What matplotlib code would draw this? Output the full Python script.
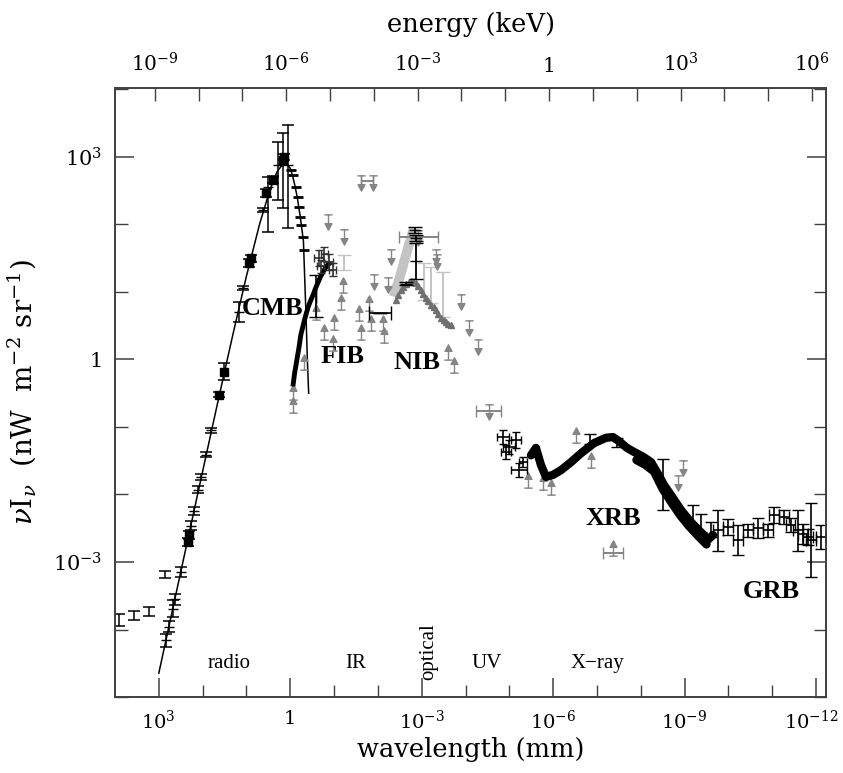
import numpy as np
import matplotlib
matplotlib.use('Agg')
import matplotlib.pyplot as plt
import matplotlib.transforms as mtrans
from matplotlib.path import Path
from matplotlib.ticker import FixedLocator, FuncFormatter, NullFormatter

# ---------------- data: log10 wavelength [mm], log10 nuI_nu [nW m^-2 sr^-1] ----------------
cmb_line_loglam = [3.0, 2.477, 2.0, 1.699, 1.477, 1.301, 1.0, 0.699, 0.477, 0.398, 0.301,
                   0.176, 0.130, 0.079, 0.0, -0.046, -0.097, -0.155, -0.222, -0.260, -0.301,
                   -0.33, -0.36, -0.39, -0.42]
cmb_line_logI = [-4.647, -3.08, -1.658, -0.766, -0.116, 0.392, 1.234, 2.007, 2.485, 2.623, 2.78,
                 2.89, 2.91, 2.90, 2.83, 2.74, 2.60, 2.42, 2.14, 1.96, 1.75, 1.20, 0.65, 0.0, -0.5]

cmb_sq_loglam = [2.34, 2.315, 1.63, 1.52, 0.945, 0.90, 0.557, 0.40, 0.17, 0.146]
cmb_sq_logI = [-2.70, -2.60, -0.52, -0.18, 1.43, 1.50, 2.47, 2.66, 2.96, 3.00]
cmb_sq_elo = [0.06, 0.06, 0.04, 0.12, 0.06, 0.05, 0.06, 0.05, 0.72, 0.05]
cmb_sq_ehi = [0.06, 0.06, 0.04, 0.12, 0.06, 0.05, 0.06, 0.05, 0.40, 0.05]

cmb_bar_loglam = [2.84, 2.77, 2.68, 2.635, 2.50, 2.27, 2.20, 2.11, 2.03, 1.92, 1.80, 1.17,
                  1.08, 0.63, 0.51, 0.28, 0.055]
cmb_bar_logI = [-4.16, -3.96, -3.69, -3.55, -3.15, -2.46, -2.25, -1.93, -1.74, -1.41, -1.05,
                0.70, 1.06, 2.21, 2.55, 2.88, 2.88]
cmb_bar_elo = [0.10, 0.08, 0.12, 0.08, 0.07, 0.06, 0.06, 0.05, 0.04, 0.04, 0.04, 0.15,
               0.03, 0.03, 0.66, 0.52, 0.93]
cmb_bar_ehi = [0.10, 0.08, 0.12, 0.08, 0.07, 0.06, 0.06, 0.05, 0.04, 0.04, 0.04, 0.15,
               0.03, 0.03, 0.15, 0.34, 0.59]

radio_loglam = [3.913, 3.57, 3.23, 2.86]
radio_logI = [-3.86, -3.79, -3.73, -3.19]
radio_err = [0.09, 0.07, 0.07, 0.05]

firas_cmb_loglam = [-0.014, -0.06, -0.128, -0.174, -0.196, -0.219, -0.242, -0.288, -0.311]
firas_cmb_logI = [2.81, 2.73, 2.56, 2.41, 2.26, 2.11, 1.99, 1.81, 1.62]

firas_cib_loglam = [-0.06, -0.10, -0.15, -0.20, -0.24, -0.30, -0.356, -0.41, -0.47,
                    -0.53, -0.58, -0.64, -0.70, -0.76, -0.81, -0.87, -0.93]
firas_cib_logI = [-0.40, -0.20, -0.01, 0.18, 0.36, 0.52, 0.66, 0.78, 0.88,
                  0.97, 1.06, 1.15, 1.24, 1.31, 1.36, 1.41, 1.44]

dirbe_loglam = [-0.65, -0.78, -0.88, -0.97, -0.70]
dirbe_logI = [1.50, 1.56, 1.44, 1.33, 1.38]
dirbe_xerr = [0.10, 0.08, 0.10, 0.08, 0.08]
dirbe_yerr = [0.12, 0.10, 0.12, 0.10, 0.10]

fib_black_bar_loglam = [-0.584, -2.046]
fib_black_bar_logI = [0.94, 0.689]
fib_black_bar_xerr = [0.0, 0.25]
fib_black_bar_yerr = [0.31, 0.0]

lightbar_loglam = [-1.22, -3.05, -3.21, -3.484]
lightbar_logI = [1.437, 1.156, 1.104, 0.963]
lightbar_err = [0.11, 0.274, 0.267, 0.333]

lower_loglam = [-0.059, -0.059, -0.311, -0.767, -0.995, -1.155, -1.20, -1.612, -1.84, -1.566,
                -1.795, -2.114, -2.137, -3.598, -3.735, -5.425, -5.767, -5.95, -6.52, -6.863,
                -7.365, -0.58, -0.98]
lower_logI = [-0.48, -0.67, -0.04, 0.41, 0.56, 0.85, 1.10, 0.41, 0.54, 0.69,
              0.84, 0.54, 0.36, 0.11, -0.08, -1.79, -1.82, -1.89, -1.12, -1.49,
              -2.80, 0.70, 0.25]

upper_loglam = [-0.858, -1.224, -1.612, -1.886, -2.297, -1.909, -2.228, -3.324, -3.36, -3.895,
                -4.078, -4.283, -2.925, -4.534, -8.963, -8.85]
upper_logI = [2.03, 1.82, 2.62, 2.62, 1.52, 1.15, 1.10, 1.52, 1.45, 0.85,
              0.47, 0.19, 1.80, -0.78, -1.61, -1.83]

uplim_bar_loglam = [-1.75, -2.925, -4.534, -7.365]
uplim_bar_logI = [2.64, 1.82, -0.77, -2.86]
uplim_bar_xerr = [0.14, 0.445, 0.285, 0.22]

nib_band_loglam = [-2.365, -2.42, -2.48, -2.54, -2.594, -2.65, -2.708, -2.77, -2.822]
nib_band_logI = [0.93, 1.05, 1.18, 1.31, 1.44, 1.57, 1.70, 1.83, 1.95]

nib_counts_loglam = [-2.41, -2.47, -2.525, -2.58, -2.64, -2.70, -2.753, -2.81, -2.868, -2.92,
                     -2.98, -3.04, -3.096, -3.15, -3.21, -3.27, -3.32, -3.38, -3.44, -3.50,
                     -3.55, -3.61, -3.667]
nib_counts_logI = [0.88, 0.96, 1.03, 1.08, 1.12, 1.15, 1.16, 1.155, 1.13, 1.09,
                   1.03, 0.97, 0.91, 0.86, 0.81, 0.77, 0.73, 0.68, 0.62, 0.58,
                   0.56, 0.53, 0.51]

nib_black_loglam = [-2.87, -2.84, -2.86, -2.64]
nib_black_logI = [1.46, 1.92, 1.80, 1.12]
nib_black_yerr = [0.27, 0.04, 0.04, 0.02]

uv_box_loglam = [-4.854, -4.991, -5.151, -4.922, -5.219, -5.31]
uv_box_logI = [-1.15, -1.30, -1.19, -1.37, -1.64, -1.52]
uv_box_xerr = [0.13, 0.13, 0.12, 0.12, 0.18, 0.10]
uv_box_yerr = [0.10, 0.10, 0.12, 0.10, 0.10, 0.08]

xrb_loglam = [-5.493, -5.607, -5.72, -5.836, -5.995, -6.178, -6.41, -6.635, -6.932, -7.205,
              -7.365, -7.50, -7.685, -7.845, -8.05, -8.233, -8.37, -8.53, -8.69, -8.918,
              -9.146, -9.374, -9.534, -9.648]
xrb_logI = [-1.42, -1.31, -1.56, -1.74, -1.71, -1.64, -1.52, -1.39, -1.24, -1.16,
            -1.15, -1.21, -1.31, -1.37, -1.44, -1.52, -1.67, -1.86, -2.01, -2.23,
            -2.41, -2.56, -2.67, -2.60]

xrb_low_loglam = [-7.9, -8.1, -8.3, -8.5, -8.7, -8.9, -9.1, -9.3, -9.5]
xrb_low_logI = [-1.49, -1.56, -1.66, -1.92, -2.12, -2.31, -2.47, -2.61, -2.74]

xrb_bar_loglam = [-6.83, -7.46, -8.50, -9.20, -9.37, -9.60]
xrb_bar_logI = [-1.18, -1.23, -1.85, -2.30, -2.42, -2.52]
xrb_bar_yerr = [0.07, 0.07, 0.38, 0.15, 0.13, 0.11]

grb_loglam = [-9.763, -9.99, -10.22, -10.45, -10.676, -10.90, -11.04, -11.27, -11.42, -11.59,
              -11.70, -11.82, -11.886, -12.11]
grb_logI = [-2.53, -2.48, -2.67, -2.53, -2.50, -2.53, -2.30, -2.33, -2.45, -2.53,
            -2.58, -2.63, -2.67, -2.63]
grb_xerr = [0.11, 0.11, 0.11, 0.11, 0.11, 0.11, 0.11, 0.11, 0.11, 0.11, 0.11, 0.11, 0.11, 0.11]
grb_yerr = [0.30, 0.12, 0.22, 0.10, 0.15, 0.10, 0.12, 0.10, 0.10, 0.30, 0.15, 0.12, 0.55, 0.18]

labels_bold = ['CMB', 'FIB', 'NIB', 'XRB', 'GRB']
labels_bold_loglam = [0.40, -1.20, -2.89, -7.365, -10.97]
labels_bold_logI = [0.76, 0.04, -0.04, -2.35, -3.43]

bands = ['radio', 'IR', 'UV', 'X\u2212ray']
bands_loglam = [1.40, -1.50, -4.49, -7.02]
bands_logI = -4.50

x_major_exp = [3, 0, -3, -6, -9, -12]
y_major_exp = [3, 0, -3]
e_major_exp = [-9, -6, -3, 0, 3, 6]

# ---------------- helpers ----------------
def p(a):
    return np.power(10.0, np.asarray(a, dtype=float))

def err(center, e):
    c = np.asarray(center, float)
    e = np.asarray(e, float)
    return p(c) - p(c - e), p(c + e) - p(c)

up_path = Path([(-0.55, -1.0), (0.55, -1.0), (0.0, -1.0), (0.0, 0.3),
                (-0.45, 0.15), (0.0, 1.0), (0.45, 0.15), (-0.45, 0.15)],
               [Path.MOVETO, Path.LINETO, Path.MOVETO, Path.LINETO,
                Path.MOVETO, Path.LINETO, Path.LINETO, Path.CLOSEPOLY])
down_path = Path([(x, -y) for x, y in up_path.vertices], up_path.codes)

plt.rcParams['font.family'] = ['DejaVu Serif']
plt.rcParams['mathtext.fontset'] = 'dejavuserif'

fig = plt.figure(figsize=(8.43, 7.73), dpi=100)
ax = fig.add_axes([0.1364, 0.0983, 0.8436, 0.7878])
ax.set_xscale('log')
ax.set_yscale('log')
XL = (1e4, 10 ** -12.23)
ax.set_xlim(*XL)
ax.set_ylim(1e-5, 10 ** 4.02)

BLK = 'black'
GR = '#858585'
LGR = '#c4c4c4'

# CMB
ax.plot(p(cmb_line_loglam), p(cmb_line_logI), color=BLK, lw=1.1, zorder=3)
lo, hi = err(cmb_sq_logI, cmb_sq_elo)[0], err(cmb_sq_logI, cmb_sq_ehi)[1]
ax.errorbar(p(cmb_sq_loglam), p(cmb_sq_logI), yerr=[lo, hi], fmt='s', ms=6, color=BLK,
            elinewidth=1.1, capsize=4, capthick=1.1, zorder=4)
lo, hi = err(cmb_bar_logI, cmb_bar_elo)[0], err(cmb_bar_logI, cmb_bar_ehi)[1]
ax.errorbar(p(cmb_bar_loglam), p(cmb_bar_logI), yerr=[lo, hi], fmt='_', ms=7, color=BLK,
            elinewidth=1.1, capsize=4, capthick=1.1, zorder=4)
ax.errorbar(p(radio_loglam), p(radio_logI), yerr=err(radio_logI, radio_err), fmt='none',
            ecolor=BLK, elinewidth=1.1, capsize=4, capthick=1.1)
ax.plot(p(firas_cmb_loglam), p(firas_cmb_logI), ls='none', marker='_', ms=7, mew=2, color=BLK, zorder=4)

# FIB
ax.plot(p(firas_cib_loglam), p(firas_cib_logI), color=BLK, lw=3.5, solid_capstyle='butt', zorder=4)
ax.errorbar(p(dirbe_loglam), p(dirbe_logI), xerr=err(dirbe_loglam, dirbe_xerr),
            yerr=err(dirbe_logI, dirbe_yerr), fmt='none', ecolor='#303030', elinewidth=1.2,
            capsize=3, zorder=4)
ax.errorbar(p(fib_black_bar_loglam), p(fib_black_bar_logI),
            xerr=err(fib_black_bar_loglam, fib_black_bar_xerr),
            yerr=err(fib_black_bar_logI, fib_black_bar_yerr), fmt='none', ecolor=BLK,
            elinewidth=1.2, capsize=5, zorder=4)
ax.errorbar(p(lightbar_loglam), p(lightbar_logI), yerr=err(lightbar_logI, lightbar_err),
            fmt='none', ecolor=LGR, elinewidth=1.4, capsize=5, zorder=2)

# NIB
ax.plot(p(nib_band_loglam), p(nib_band_logI), color=LGR, lw=7, solid_capstyle='butt', zorder=3)
ax.plot(p(nib_counts_loglam), p(nib_counts_logI), ls='none', marker='^', ms=5, color='#707070', zorder=4)
ax.errorbar(p(nib_black_loglam), p(nib_black_logI), yerr=err(nib_black_logI, nib_black_yerr),
            fmt='_', ms=8, color=BLK, elinewidth=1.3, capsize=5, zorder=5)

# limits
ax.plot(p(lower_loglam), p(lower_logI), ls='none', marker=up_path, ms=11, color=GR,
        mec=GR, mew=1.0, zorder=3)
ax.plot(p(upper_loglam), p(upper_logI), ls='none', marker=down_path, ms=11, color=GR,
        mec=GR, mew=1.0, zorder=3)
ax.errorbar(p(uplim_bar_loglam), p(uplim_bar_logI), xerr=err(uplim_bar_loglam, uplim_bar_xerr),
            fmt='none', ecolor=GR, elinewidth=1.4, capsize=4, zorder=3)

# UV / XRB / GRB
ax.errorbar(p(uv_box_loglam), p(uv_box_logI), xerr=err(uv_box_loglam, uv_box_xerr),
            yerr=err(uv_box_logI, uv_box_yerr), fmt='none', ecolor=BLK, elinewidth=1.2,
            capsize=3, zorder=4)
ax.plot(p(xrb_loglam), p(xrb_logI), color=BLK, lw=6, solid_capstyle='round', zorder=4)
ax.plot(p(xrb_low_loglam), p(xrb_low_logI), color=BLK, lw=6, solid_capstyle='round', zorder=4)
ax.errorbar(p(xrb_bar_loglam), p(xrb_bar_logI), yerr=err(xrb_bar_logI, xrb_bar_yerr),
            fmt='none', ecolor=BLK, elinewidth=1.2, capsize=4, zorder=4)
ax.errorbar(p(grb_loglam), p(grb_logI), xerr=err(grb_loglam, grb_xerr),
            yerr=err(grb_logI, grb_yerr), fmt='none', ecolor=BLK, elinewidth=1.2,
            capsize=4, zorder=4)

# labels
for t, lx, ly in zip(labels_bold, labels_bold_loglam, labels_bold_logI):
    ax.text(10 ** lx, 10 ** ly, t, family='Liberation Serif', weight='bold', fontsize=19,
            ha='center', va='center', zorder=6)
for t, lx in zip(bands, bands_loglam):
    ax.text(10 ** lx, 10 ** bands_logI, t, family='Liberation Serif', fontsize=15,
            ha='center', va='center')
ax.text(10 ** -3.164, 10 ** -4.33, 'optical', family='Liberation Serif', fontsize=15,
        rotation=90, ha='center', va='center')

# axes styling
def fmt(v, pos):
    e = int(round(np.log10(v)))
    return '1' if e == 0 else r'$10^{%d}$' % e

spine_c = '#404040'
for s in ax.spines.values():
    s.set_color(spine_c)
    s.set_linewidth(1.2)

ax.xaxis.set_major_locator(FixedLocator([10.0 ** e for e in x_major_exp]))
ax.xaxis.set_minor_locator(FixedLocator([10.0 ** e for e in range(3, -13, -1) if e not in x_major_exp]))
ax.xaxis.set_major_formatter(FuncFormatter(fmt))
ax.xaxis.set_minor_formatter(NullFormatter())
ax.yaxis.set_major_locator(FixedLocator([10.0 ** e for e in y_major_exp]))
ax.yaxis.set_minor_locator(FixedLocator([10.0 ** e for e in range(4, -6, -1) if e not in y_major_exp]))
ax.yaxis.set_major_formatter(FuncFormatter(fmt))
ax.yaxis.set_minor_formatter(NullFormatter())
ax.tick_params(which='both', direction='in', color=spine_c, labelsize=15, top=False, right=True)
ax.tick_params(axis='x', labelsize=14)
ax.tick_params(which='major', length=14, width=1.1, pad=9)
ax.tick_params(which='minor', length=9, width=1.0)
ax.set_xlabel('wavelength (mm)', fontsize=18.5, labelpad=3)
ax.set_ylabel(r'$\nu\mathrm{I}_\nu$  (nW  m$^{-2}$ sr$^{-1}$)', fontsize=20, labelpad=10)

ax2 = ax.twiny()
ax2.set_xscale('log')
ax2.set_xlim(1.24e-6 / XL[0], 1.24e-6 / XL[1])
ax2.xaxis.set_major_locator(FixedLocator([10.0 ** e for e in e_major_exp]))
ax2.xaxis.set_minor_locator(FixedLocator([10.0 ** e for e in range(-10, 8) if e not in e_major_exp]))
ax2.xaxis.set_major_formatter(FuncFormatter(fmt))
ax2.xaxis.set_minor_formatter(NullFormatter())
ax2.tick_params(which='both', direction='in', color=spine_c, labelsize=14.5)
ax2.tick_params(which='major', length=9, width=1.0, pad=9)
ax2.tick_params(which='minor', length=9, width=1.0)
ax2.set_xlabel('energy (keV)', fontsize=18.5, labelpad=15)
for s in ax2.spines.values():
    s.set_color(spine_c)
    s.set_linewidth(1.2)

# nudge the right-most wavelength label a few pixels left so it stays on the canvas
fig.canvas.draw()
shift = mtrans.ScaledTranslation(-5 / 100, 0, fig.dpi_scale_trans)
for lab in ax.xaxis.get_majorticklabels():
    if '-12' in lab.get_text():
        lab.set_transform(lab.get_transform() + shift)

fig.savefig('out.png', dpi=100)
